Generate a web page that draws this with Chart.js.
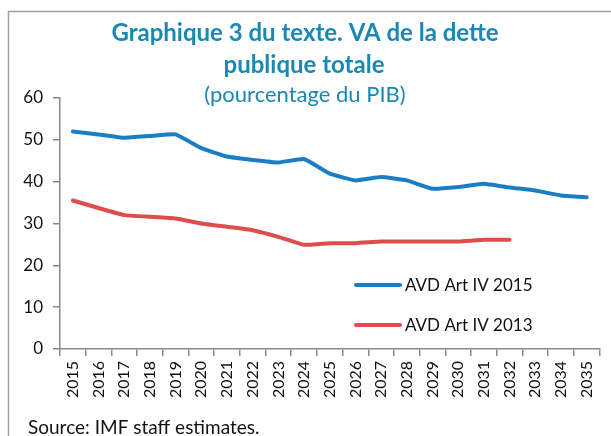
<!DOCTYPE html>
<html lang="fr">
<head>
<meta charset="UTF-8">
<title>Graphique 3</title>
<script src="https://cdn.jsdelivr.net/npm/chart.js"></script>
<style>
  html, body { margin: 0; padding: 0; background: #fff; }
  #wrap { width: 611px; height: 436px; position: relative; }
</style>
</head>
<body>
<div id="wrap"><canvas id="chart"></canvas></div>
<script>
// data
var years = ['2015','2016','2017','2018','2019','2020','2021','2022','2023','2024','2025',
             '2026','2027','2028','2029','2030','2031','2032','2033','2034','2035'];
var avd2015 = [52.0, 51.3, 50.5, 50.9, 51.3, 48.0, 46.0, 45.2, 44.6, 45.4, 41.9,
               40.3, 41.1, 40.3, 38.3, 38.7, 39.5, 38.6, 37.9, 36.7, 36.3];
var avd2013 = [35.5, 33.7, 32.0, 31.6, 31.2, 30.0, 29.2, 28.4, 26.8, 24.9, 25.3,
               25.3, 25.7, 25.7, 25.7, 25.7, 26.1, 26.1, null, null, null];
var yTicks = [0, 10, 20, 30, 40, 50, 60];

var titleLines = ['Graphique 3 du texte. VA de la dette', 'publique totale'];
var subTitle = '(pourcentage du PIB)';
var sourceNote = 'Source: IMF staff estimates.';

var FONT = 'Lato, "Open Sans", sans-serif';
var BLUE = '#1b7ec2';
var RED = '#e04c4c';
var TITLE_COL = '#1a88b4';
var AXIS = '#8a8a8a';

// titles, frame, legend and source are drawn by hand
var decorPlugin = {
    id: 'decor',
    beforeDraw: function(chart) {
        var c = chart.ctx;
        c.save();
        c.strokeStyle = '#a0a0a0';
        c.lineWidth = 1.5;
        c.beginPath();
        c.moveTo(8.5, 436);
        c.lineTo(8.5, 11.5);
        c.lineTo(611, 11.5);
        c.stroke();
        c.restore();
    },
    afterDraw: function(chart) {
        var c = chart.ctx;
        c.save();
        c.textAlign = 'center';
        c.textBaseline = 'middle';
        c.fillStyle = TITLE_COL;
        c.font = 'bold 24px ' + FONT;
        c.fillText(titleLines[0], 305, 33);
        c.fillText(titleLines[1], 304, 65);
        c.font = '22px ' + FONT;
        c.fillText(subTitle, 305, 95);

        // legend
        var ds = chart.data.datasets;
        var ly = [285, 325];
        c.textAlign = 'left';
        c.font = '17px ' + FONT;
        for (var i = 0; i < ds.length; i++) {
            c.strokeStyle = ds[i].borderColor;
            c.lineWidth = 4;
            c.lineCap = 'round';
            c.beginPath();
            c.moveTo(356, ly[i]);
            c.lineTo(400, ly[i]);
            c.stroke();
            c.fillStyle = '#111';
            c.fillText(ds[i].label, 405, ly[i] + 1);
        }

        c.font = '19px ' + FONT;
        c.fillStyle = '#111';
        c.fillText(sourceNote, 28, 428);
        c.restore();
    }
};

var ctx = document.getElementById('chart').getContext('2d');
var chart = new Chart(ctx, {
    type: 'line',
    data: {
        labels: years,
        datasets: [
            { label: 'AVD Art IV 2015', data: avd2015, borderColor: BLUE, backgroundColor: BLUE,
              borderWidth: 4, pointRadius: 0, tension: 0.1, borderCapStyle: 'round' },
            { label: 'AVD Art IV 2013', data: avd2013, borderColor: RED, backgroundColor: RED,
              borderWidth: 4, pointRadius: 0, tension: 0.1, borderCapStyle: 'round' }
        ]
    },
    options: {
        responsive: true,
        maintainAspectRatio: false,
        animation: false,
        layout: { padding: { top: 98, right: 5, left: 0, bottom: 0 } },
        plugins: {
            legend: { display: false },
            title: { display: false },
            tooltip: { enabled: false }
        },
        scales: {
            x: {
                offset: true,
                grid: { display: true, drawOnChartArea: false, offset: true, tickLength: 7, color: AXIS, lineWidth: 1.5 },
                border: { color: AXIS, width: 1.5 },
                ticks: { color: '#111', font: { family: FONT, size: 16 }, minRotation: 90, maxRotation: 90,
                         autoSkip: false, padding: 5 },
                afterFit: function(s) { s.height = 87; }
            },
            y: {
                min: 0, max: 60,
                afterBuildTicks: function(s) { s.ticks = yTicks.map(function(v) { return { value: v }; }); },
                grid: { display: true, drawOnChartArea: false, tickLength: 7, color: AXIS, lineWidth: 1.5 },
                border: { color: AXIS, width: 1.5 },
                ticks: { color: '#111', font: { family: FONT, size: 17 }, padding: 10 },
                afterFit: function(s) { s.width = 60; }
            }
        }
    },
    plugins: [decorPlugin]
});
</script>
</body>
</html>
